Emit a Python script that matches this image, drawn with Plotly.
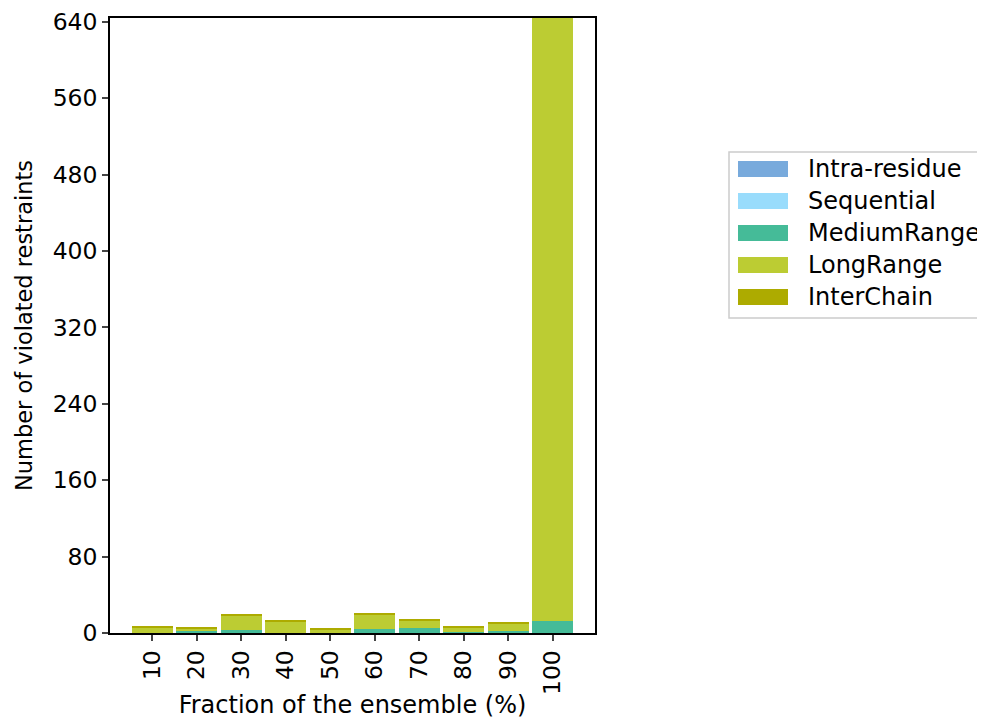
import plotly.graph_objects as go

# Fraction of the ensemble (%) categories
fractions = ["10", "20", "30", "40", "50", "60", "70", "80", "90", "100"]

# Violated restraint counts per class
intra_residue = [0, 0, 0, 0, 0, 0, 0, 0, 0, 0]
sequential = [0, 0, 0, 0, 0, 0, 0, 0, 0, 0]
medium_range = [0, 2, 3, 0, 0, 4, 5, 1, 2, 13]
long_range = [6, 3, 15, 12, 4, 15, 8, 5, 8, 650]
inter_chain = [1, 1, 1, 1, 1, 1, 1, 1, 1, 1]

series_names = ["Intra-residue", "Sequential", "MediumRange", "LongRange", "InterChain"]
series_values = [intra_residue, sequential, medium_range, long_range, inter_chain]
series_colors = ["#78aadc", "#99dcfc", "#45bb98", "#bccc33", "#adab00"]

# plot area on screen (px); the page body adds ~7px offset, compensated in margins
L, R, T, B = 109, 595, 17, 633
W, H = R - L - 1, B - T - 1
OFF = 7


def px_x(x):
    return (x - L) / W


def px_y(y):
    return (B - y) / H


fig = go.Figure()
for name, vals, color in zip(series_names, series_values, series_colors):
    fig.add_trace(go.Bar(x=fractions, y=vals, name=name, marker_color=color,
                         marker_line_width=0, showlegend=False))

# matplotlib-style legend box drawn by hand
shapes = [dict(type="rect", xref="paper", yref="paper",
               x0=px_x(728), x1=px_x(1010), y0=px_y(318), y1=px_y(152),
               line=dict(color="#cccccc", width=1.5), fillcolor="white", layer="above")]
annotations = []
for i, (name, color) in enumerate(zip(series_names, series_colors)):
    cy = 169 + 32 * i
    shapes.append(dict(type="rect", xref="paper", yref="paper",
                       x0=px_x(737), x1=px_x(787), y0=px_y(cy + 8), y1=px_y(cy - 8),
                       line=dict(width=0), fillcolor=color, layer="above"))
    annotations.append(dict(xref="paper", yref="paper", x=px_x(805), y=px_y(cy),
                            xanchor="left", yanchor="middle", text=name,
                            showarrow=False, font=dict(size=24)))

font = "DejaVu Sans, sans-serif"
fig.update_layout(
    barmode="stack",
    bargap=0.08,
    width=985,
    height=719,
    margin=dict(l=L - OFF, r=985 - (L - OFF) - W, t=T - OFF, b=719 - (T - OFF) - H),
    plot_bgcolor="white",
    paper_bgcolor="white",
    font=dict(family=font, size=24, color="black"),
    showlegend=False,
    shapes=shapes,
    annotations=annotations,
)
fig.update_xaxes(
    type="category",
    range=[-0.95, 9.95],
    tickangle=-90,
    automargin=False,
    ticks="outside", ticklen=6, tickwidth=1.6,
    showline=True, linecolor="black", linewidth=1.6, mirror=True,
    showgrid=False,
    tickfont=dict(size=23.5),
    title=dict(text="Fraction of the ensemble (%)", font=dict(size=24), standoff=2),
)
fig.update_yaxes(
    range=[0, 644],
    dtick=80,
    automargin=False,
    ticks="outside", ticklen=6, tickwidth=1.6,
    showline=True, linecolor="black", linewidth=1.6, mirror=True,
    showgrid=False, zeroline=False,
    tickfont=dict(size=23.5),
    title=dict(text="Number of violated restraints", font=dict(size=22.5), standoff=14),
)

fig.write_html("out.html")
